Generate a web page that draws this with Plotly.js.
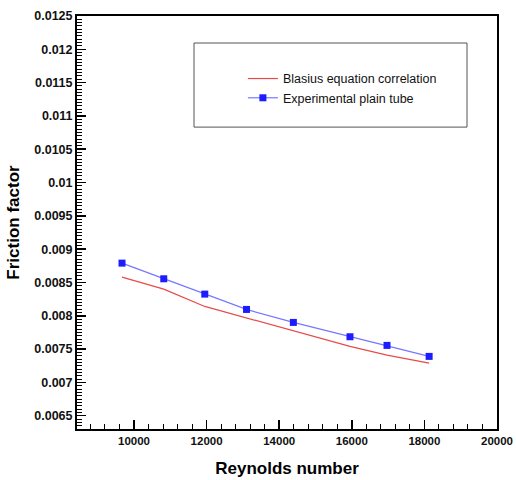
<!DOCTYPE html>
<html>
<head>
<meta charset="utf-8">
<script src="https://cdn.plot.ly/plotly-3.0.1.min.js"></script>
<style>html,body{margin:0;padding:0;background:#fff;}#chart{width:516px;height:480px;}</style>
</head>
<body>
<div id="chart"></div>
<script>
// Data
const reynolds = [9670, 10820, 11950, 13100, 14390, 15950, 16970, 18130];
const blasius = [0.00858, 0.00840, 0.00814, 0.007965, 0.00778, 0.00754, 0.00741, 0.00729];
const experimental = [0.00879, 0.008555, 0.008325, 0.008095, 0.00790, 0.007685, 0.007555, 0.00739];
const seriesNames = ["Blasius equation correlation", "Experimental plain tube"];

const font = "Liberation Sans, Arial, sans-serif";

const traces = [
  {
    x: reynolds, y: blasius, name: seriesNames[0], type: "scatter", mode: "lines",
    line: {color: "#e84a4a", width: 1.2}
  },
  {
    x: reynolds, y: experimental, name: seriesNames[1], type: "scatter", mode: "lines+markers",
    line: {color: "#7777ff", width: 1.2},
    marker: {symbol: "square", size: 7, color: "#1c1cff"}
  }
];

const layout = {
  width: 516, height: 480,
  margin: {l: 77, r: 19, t: 16, b: 51},
  paper_bgcolor: "#fff", plot_bgcolor: "#fff",
  showlegend: true,
  legend: {
    x: 0.395, y: 0.884, xanchor: "left", yanchor: "top",
    bgcolor: "rgba(0,0,0,0)", borderwidth: 0,
    font: {family: font, size: 12.5, color: "#111"},
    tracegroupgap: 0
  },
  shapes: [{
    type: "rect", xref: "paper", yref: "paper",
    x0: 0.2786, x1: 0.9286, y0: 0.731, y1: 0.9346,
    line: {color: "#555", width: 1}, fillcolor: "rgba(0,0,0,0)"
  }],
  xaxis: {
    range: [8430, 20000], dtick: 2000, tick0: 0, tickformat: "d",
    ticks: "inside", ticklen: 9, tickwidth: 1.5, tickcolor: "#000",
    minor: {dtick: 400, tick0: 0, ticks: "inside", ticklen: 5, tickwidth: 1, tickcolor: "#000", showgrid: false},
    showline: true, linecolor: "#000", linewidth: 2, mirror: true,
    showgrid: false, zeroline: false,
    tickfont: {family: font, size: 11.5, color: "#111", weight: "bold"},
    title: {text: "Reynolds number", font: {family: font, size: 17, color: "#000", weight: "bold"}, standoff: 16}
  },
  yaxis: {
    range: [0.0063, 0.0125], dtick: 0.0005, tick0: 0,
    ticks: "inside", ticklen: 9, tickwidth: 1.5, tickcolor: "#000",
    minor: {dtick: 0.00005, tick0: 0, ticks: "inside", ticklen: 5, tickwidth: 1, tickcolor: "#000", showgrid: false},
    showline: true, linecolor: "#000", linewidth: 2, mirror: true,
    showgrid: false, zeroline: false,
    tickfont: {family: font, size: 12.5, color: "#111", weight: "bold"},
    title: {text: "Friction factor", font: {family: font, size: 17, color: "#000", weight: "bold"}, standoff: 10}
  }
};

Plotly.newPlot("chart", traces, layout, {displayModeBar: false, staticPlot: true});
</script>
</body>
</html>
